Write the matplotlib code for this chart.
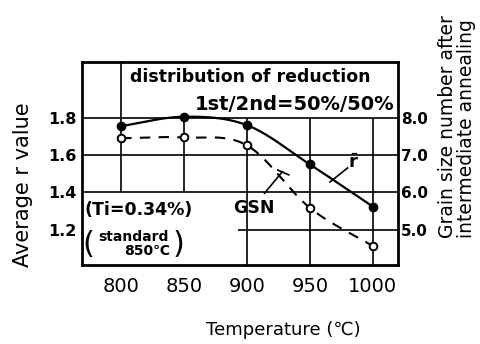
import numpy as np
import matplotlib.pyplot as plt

# --- data ---
temps = [800, 850, 900, 950, 1000]
r_value = [1.755, 1.805, 1.76, 1.55, 1.325]
gsn = [7.45, 7.47, 7.26, 5.59, 4.57]
r_ticks = [1.2, 1.4, 1.6, 1.8]
gsn_ticks = [5.0, 6.0, 7.0, 8.0]
gsn_labels = ['5.0', '6.0', '7.0', '8.0']


def gsn_to_r(g):
    # right axis shares the grid: 5.0 <-> 1.2, 8.0 <-> 1.8
    return 1.2 + (np.asarray(g, float) - 5.0) / 5.0


def smooth(x, y, n=40):
    # Catmull-Rom style hermite curve through the points
    x = np.asarray(x, float)
    y = np.asarray(y, float)
    m = np.gradient(y, x)
    xs, ys = [], []
    for i in range(len(x) - 1):
        h = x[i + 1] - x[i]
        t = np.linspace(0, 1, n)
        h00 = 2 * t**3 - 3 * t**2 + 1
        h10 = t**3 - 2 * t**2 + t
        h01 = -2 * t**3 + 3 * t**2
        h11 = t**3 - t**2
        xs.append(x[i] + t * h)
        ys.append(h00 * y[i] + h10 * h * m[i] + h01 * y[i + 1] + h11 * h * m[i + 1])
    return np.concatenate(xs), np.concatenate(ys)


fig = plt.figure(figsize=(4.8, 3.44), dpi=100)
ax = fig.add_axes([0.171, 0.23, 0.658, 0.59])
x0, x1 = 769, 1020
y0, y1 = 1.013, 2.098
ax.set_xlim(x0, x1)
ax.set_ylim(y0, y1)

# grid drawn by hand (partial lines as in the original)
gk = dict(color='black', lw=1.2, zorder=1)
ax.hlines([1.8, 1.6, 1.4], x0, x1, **gk)
ax.hlines(1.2, 893, x1, **gk)
ax.vlines(800, 1.4, y1, **gk)
ax.vlines(850, 1.4, 1.8, **gk)
ax.vlines([900, 950, 1000], y0, 1.8, **gk)

# curves
xs, ys = smooth(temps, r_value)
ax.plot(xs, ys, color='black', lw=1.6, zorder=3)
ax.plot(temps, r_value, 'o', color='black', ms=6, zorder=4)

gsn_r = gsn_to_r(gsn)
xs, ys = smooth(temps, gsn_r)
ax.plot(xs, ys, color='black', lw=1.5, ls=(0, (5, 4)), zorder=3)
ax.plot(temps, gsn_r, 'o', mfc='white', mec='black', mew=1.4, ms=5.5, zorder=4)

# axes styling
for s in ax.spines.values():
    s.set_linewidth(2)
ax.set_xticks(temps)
ax.set_xticklabels([str(t) for t in temps], fontsize=14)
ax.set_yticks(r_ticks)
ax.set_yticklabels([f'{v:.1f}' for v in r_ticks], fontsize=11.5, fontweight='bold')
ax.tick_params(axis='both', length=0)
ax.tick_params(axis='x', pad=9)
ax.tick_params(axis='y', pad=4)

ax2 = ax.twinx()
ax2.set_ylim(5 + (y0 - 1.2) * 5, 5 + (y1 - 1.2) * 5)
ax2.set_yticks(gsn_ticks)
ax2.set_yticklabels(gsn_labels, fontsize=11, fontweight='bold')
ax2.tick_params(axis='y', length=0, pad=2)
for s in ax2.spines.values():
    s.set_visible(False)

# annotations
ax.text(807, 2.018, 'distribution of reduction', fontsize=12.5, fontweight='bold',
        ha='left', va='center')
ax.text(1017, 1.868, '1st/2nd=50%/50%', fontsize=14, fontweight='bold',
        ha='right', va='center')
ax.text(771, 1.306, '(Ti=0.34%)', fontsize=12.5, fontweight='bold', ha='left', va='center')
ax.text(810, 1.16, 'standard', fontsize=10, fontweight='bold', ha='center', va='center')
ax.text(821, 1.088, '850℃', fontsize=10, fontweight='bold', ha='center', va='center')
ax.text(774, 1.122, '(', fontsize=22, ha='center', va='center')
ax.text(846, 1.122, ')', fontsize=22, ha='center', va='center')

ax.text(905.5, 1.317, 'GSN', fontsize=12.5, fontweight='bold', ha='center', va='center')
ax.plot([914, 928], [1.396, 1.51], color='black', lw=1.2)
ax.plot([924.5, 933.3], [1.52, 1.494], color='black', lw=1.2)

ax.text(985, 1.557, r'$\bar{\mathbf{r}}$', fontsize=13, ha='center', va='center')
ax.plot([980, 966], [1.531, 1.456], color='black', lw=1.2)

# axis titles
fig.text(23 / 480, 1 - 185 / 344, 'Average r value', rotation=90, fontsize=15,
         ha='center', va='center')
fig.text(457 / 480, 1 - 127 / 344, 'Grain size number after\nintermediate annealing',
         rotation=90, fontsize=13.5, ha='center', va='center', linespacing=0.95,
         multialignment='left')
fig.text(283 / 480, 1 - 330 / 344, 'Temperature (℃)', fontsize=13, ha='center', va='center')

fig.savefig('out.png', dpi=100)
